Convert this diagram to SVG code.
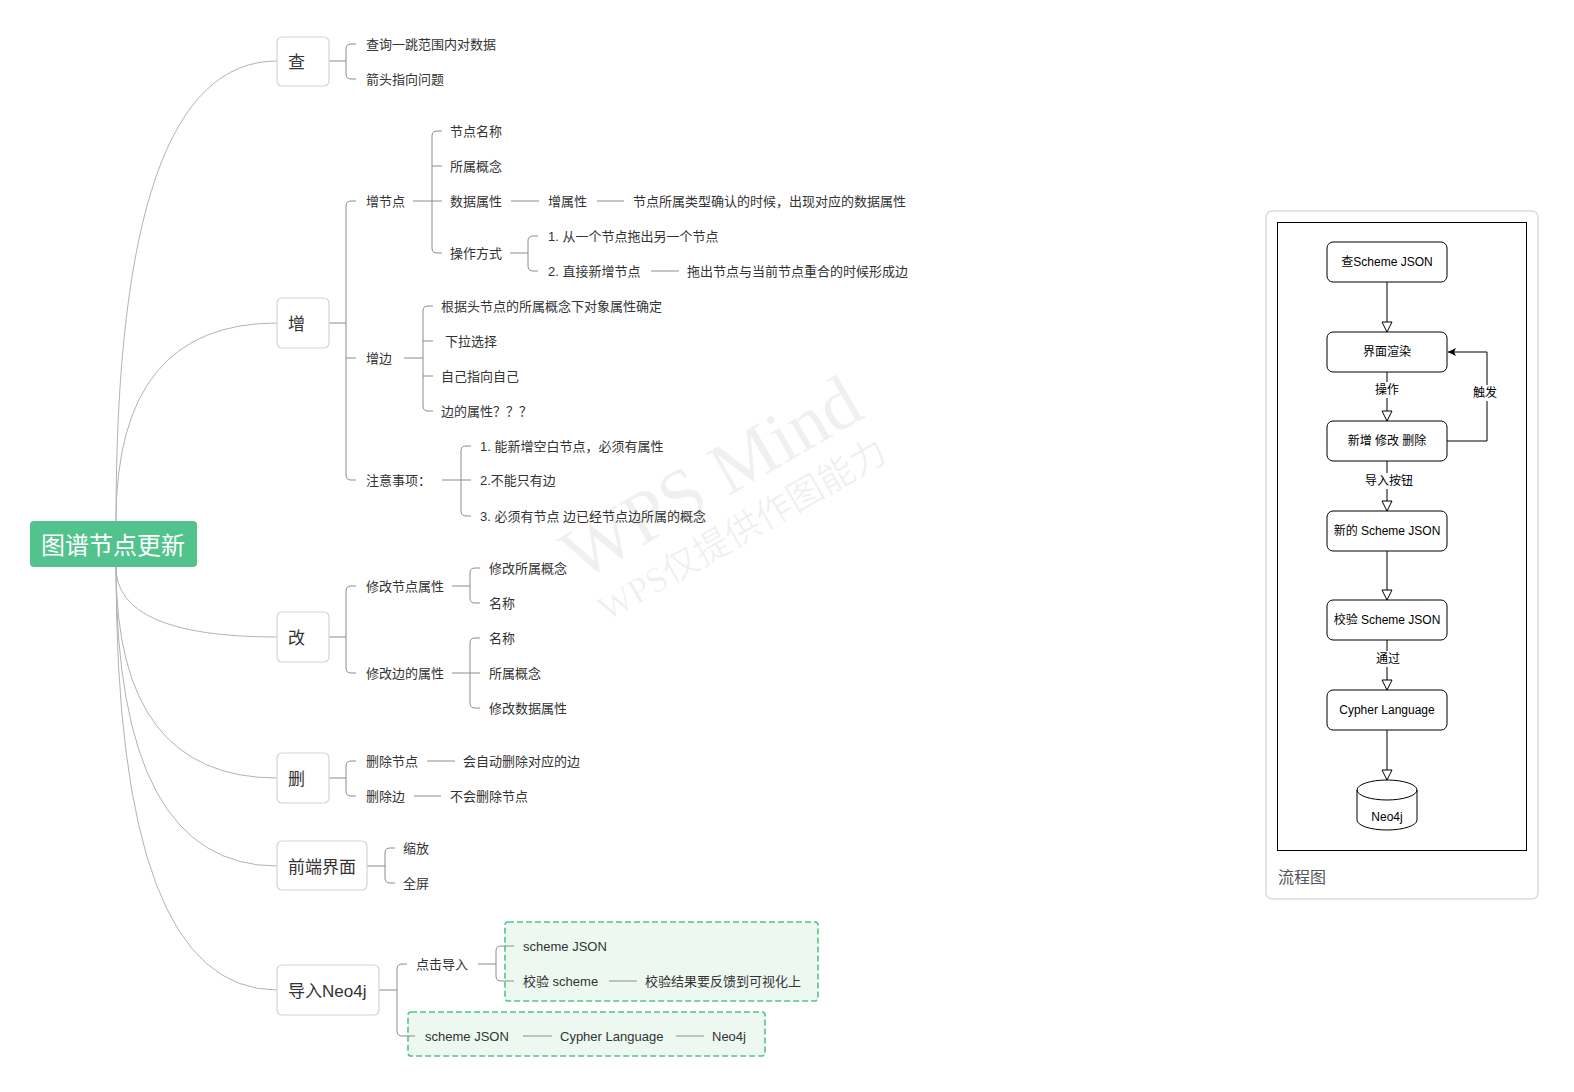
<svg xmlns="http://www.w3.org/2000/svg" width="1574" height="1092" viewBox="0 0 1574 1092">
<style>
.t{font-family:"Liberation Sans","Noto Sans CJK SC",sans-serif;fill:#333;dominant-baseline:central}
.s13{font-size:13px}
.s17{font-size:17px}
.curve{fill:none;stroke:#b3b3b3;stroke-width:1}
.ln{fill:none;stroke:#8c8c8c;stroke-width:1}
.mbox{fill:#fff;stroke:#d4d4d4;stroke-width:1.2}
.dash{fill:#edf8f1;stroke:#52c38c;stroke-width:1.6;stroke-dasharray:6 3}
.fbox{fill:#fff;stroke:#000;stroke-width:1}
.ft{font-family:"Liberation Sans","Noto Sans CJK SC",sans-serif;font-size:12px;fill:#000;text-anchor:middle;dominant-baseline:central}
.fl{fill:none;stroke:#000;stroke-width:1}
.wm{font-family:"Liberation Serif","Noto Sans CJK SC",serif;fill:#000;fill-opacity:0.06}
</style>
<defs>
<marker id="hollow" markerUnits="userSpaceOnUse" markerWidth="12" markerHeight="12" refX="10" refY="5" orient="auto" viewBox="-1 -1 12 12">
<path d="M0,0 L10,5 L0,10 Z" fill="#fff" stroke="#000" stroke-width="1"/>
</marker>
<marker id="filled" markerUnits="userSpaceOnUse" markerWidth="10" markerHeight="10" refX="8" refY="4" orient="auto" viewBox="0 0 10 8">
<path d="M0,0 L8,4 L0,8 L2,4 Z" fill="#000"/>
</marker>
</defs>
<rect width="1574" height="1092" fill="#fff"/>

<!-- watermark -->
<g id="watermark">
<text class="wm" font-size="74" transform="translate(580,582) rotate(-30)">WPS Mind</text>
<text class="wm" font-size="36" transform="translate(607,622) rotate(-30)">WPS仅提供作图能力</text>
</g>

<!-- dashed group boxes -->
<g id="groups">
<rect class="dash" x="505" y="922" width="313" height="79" rx="3"/>
<rect class="dash" x="408" y="1012" width="357" height="44" rx="3"/>
</g>

<g id="connectors">
<path class="curve" d="M116 521 Q116 61 277 61"/>
<path class="curve" d="M116 521 Q116 323 277 323"/>
<path class="curve" d="M116 567 Q116 637 277 637"/>
<path class="curve" d="M116 567 Q116 778 277 778"/>
<path class="curve" d="M116 567 Q116 866 277 866"/>
<path class="curve" d="M116 567 Q116 990 277 990"/>
<!-- 查 -->
<path class="ln" d="M329 61 H346 M356 44 H351 Q346 44 346 49 V74 Q346 79 351 79 H356"/>
<!-- 增 -->
<path class="ln" d="M329 323 H346 M356 201 H351 Q346 201 346 206 V475 Q346 480 351 480 H356 M346 358 H356"/>
<!-- 增节点 -->
<path class="ln" d="M413 201 H442 M442 131 H437 Q432 131 432 136 V248 Q432 253 437 253 H442 M432 166 H442"/>
<path class="ln" d="M511 201 H539 M597 201 H624"/>
<!-- 操作方式 -->
<path class="ln" d="M510 253 H528 M538 236 H533 Q528 236 528 241 V266 Q528 271 533 271 H538"/>
<path class="ln" d="M651 271 H679"/>
<!-- 增边 -->
<path class="ln" d="M404 358 H423 M433 306 H428 Q423 306 423 311 V406 Q423 411 428 411 H433 M423 341 H433 M423 376 H433"/>
<!-- 注意事项 -->
<path class="ln" d="M442 480 H471 M471 446 H466 Q461 446 461 451 V511 Q461 516 466 516 H471"/>
<!-- 改 -->
<path class="ln" d="M329 637 H346 M356 586 H351 Q346 586 346 591 V668 Q346 673 351 673 H356"/>
<path class="ln" d="M452 586 H470 M480 568 H475 Q470 568 470 573 V598 Q470 603 475 603 H480"/>
<path class="ln" d="M452 673 H480 M480 638 H475 Q470 638 470 643 V703 Q470 708 475 708 H480"/>
<!-- 删 -->
<path class="ln" d="M329 778 H346 M356 761 H351 Q346 761 346 766 V791 Q346 796 351 796 H356"/>
<path class="ln" d="M427 761 H455 M414 796 H441"/>
<!-- 前端界面 -->
<path class="ln" d="M367 866 H385 M395 848 H390 Q385 848 385 853 V878 Q385 883 390 883 H395"/>
<!-- 导入Neo4j -->
<path class="ln" d="M379 990 H397 M407 964 H402 Q397 964 397 969 V1031 Q397 1036 402 1036 H415"/>
<path class="ln" d="M478 964 H496 M514 946 H501 Q496 946 496 951 V976 Q496 981 501 981 H514"/>
<path class="ln" d="M609 981 H637 M523 1036 H552 M676 1036 H704"/>
</g>

<!-- root -->
<g id="root">
<rect x="30" y="521" width="167" height="46" rx="4" fill="#52c38c"/>
<text x="113" y="545" font-family="Liberation Sans,'Noto Sans CJK SC',sans-serif" font-size="24" fill="#fff" text-anchor="middle" dominant-baseline="central">图谱节点更新</text>
</g>

<!-- main nodes -->
<g id="n-cha"><rect class="mbox" x="277" y="37" width="52" height="49" rx="5"/><text class="t s17" x="288" y="62">查</text></g>
<g id="n-zeng"><rect class="mbox" x="277" y="298" width="52" height="50" rx="5"/><text class="t s17" x="288" y="324">增</text></g>
<g id="n-gai"><rect class="mbox" x="277" y="612" width="52" height="50" rx="5"/><text class="t s17" x="288" y="638">改</text></g>
<g id="n-shan"><rect class="mbox" x="277" y="753" width="52" height="50" rx="5"/><text class="t s17" x="288" y="779">删</text></g>
<g id="n-qianduan"><rect class="mbox" x="277" y="841" width="90" height="49" rx="5"/><text class="t s17" x="288" y="867">前端界面</text></g>
<g id="n-daoru"><rect class="mbox" x="277" y="965" width="102" height="50" rx="5"/><text class="t s17" x="288" y="991">导入Neo4j</text></g>

<!-- leaf texts -->
<g id="leaves-cha">
<text class="t s13" x="366" y="44">查询一跳范围内对数据</text>
<text class="t s13" x="366" y="79">箭头指向问题</text>
</g>
<g id="leaves-zeng">
<text class="t s13" x="366" y="201">增节点</text>
<text class="t s13" x="450" y="131">节点名称</text>
<text class="t s13" x="450" y="166">所属概念</text>
<text class="t s13" x="450" y="201">数据属性</text>
<text class="t s13" x="548" y="201">增属性</text>
<text class="t s13" x="633" y="201">节点所属类型确认的时候，出现对应的数据属性</text>
<text class="t s13" x="450" y="253">操作方式</text>
<text class="t s13" x="548" y="236">1. 从一个节点拖出另一个节点</text>
<text class="t s13" x="548" y="271">2. 直接新增节点</text>
<text class="t s13" x="687" y="271">拖出节点与当前节点重合的时候形成边</text>
<text class="t s13" x="366" y="358">增边</text>
<text class="t s13" x="441" y="306">根据头节点的所属概念下对象属性确定</text>
<text class="t s13" x="445" y="341">下拉选择</text>
<text class="t s13" x="441" y="376">自己指向自己</text>
<text class="t s13" x="441" y="411">边的属性？？？</text>
<text class="t s13" x="366" y="480">注意事项：</text>
<text class="t s13" x="480" y="446">1. 能新增空白节点，必须有属性</text>
<text class="t s13" x="480" y="480">2.不能只有边</text>
<text class="t s13" x="480" y="516">3. 必须有节点 边已经节点边所属的概念</text>
</g>
<g id="leaves-gai">
<text class="t s13" x="366" y="586">修改节点属性</text>
<text class="t s13" x="489" y="568">修改所属概念</text>
<text class="t s13" x="489" y="603">名称</text>
<text class="t s13" x="366" y="673">修改边的属性</text>
<text class="t s13" x="489" y="638">名称</text>
<text class="t s13" x="489" y="673">所属概念</text>
<text class="t s13" x="489" y="708">修改数据属性</text>
</g>
<g id="leaves-shan">
<text class="t s13" x="366" y="761">删除节点</text>
<text class="t s13" x="463" y="761">会自动删除对应的边</text>
<text class="t s13" x="366" y="796">删除边</text>
<text class="t s13" x="450" y="796">不会删除节点</text>
</g>
<g id="leaves-qianduan">
<text class="t s13" x="403" y="848">缩放</text>
<text class="t s13" x="403" y="883">全屏</text>
</g>
<g id="leaves-daoru">
<text class="t s13" x="416" y="964">点击导入</text>
<text class="t s13" x="523" y="946">scheme JSON</text>
<text class="t s13" x="523" y="981">校验 scheme</text>
<text class="t s13" x="645" y="981">校验结果要反馈到可视化上</text>
<text class="t s13" x="425" y="1036">scheme JSON</text>
<text class="t s13" x="560" y="1036">Cypher Language</text>
<text class="t s13" x="712" y="1036">Neo4j</text>
</g>

<!-- flowchart panel -->
<g id="flow-panel">
<rect x="1266" y="211" width="272" height="688" rx="6" fill="#fff" stroke="#dcdcdc" stroke-width="1.5"/>
<rect x="1277.5" y="222.5" width="249" height="628" fill="#fff" stroke="#000" stroke-width="1"/>
<text x="1278" y="877" font-family="Liberation Sans,'Noto Sans CJK SC',sans-serif" font-size="16" fill="#555" dominant-baseline="central">流程图</text>
</g>

<g id="flow-connectors">
<path class="fl" d="M1387 282 V332" marker-end="url(#hollow)"/>
<path class="fl" d="M1387 372 V421" marker-end="url(#hollow)"/>
<path class="fl" d="M1387 461 V511" marker-end="url(#hollow)"/>
<path class="fl" d="M1387 551 V600" marker-end="url(#hollow)"/>
<path class="fl" d="M1387 640 V690" marker-end="url(#hollow)"/>
<path class="fl" d="M1387 730 V780" marker-end="url(#hollow)"/>
<path class="fl" d="M1447 441 H1487 V352 H1448" marker-end="url(#filled)"/>
<rect x="1373" y="382" width="28" height="16" fill="#fff"/>
<text class="ft" x="1387" y="390">操作</text>
<rect x="1363" y="473" width="50" height="16" fill="#fff"/>
<text class="ft" x="1389" y="481">导入按钮</text>
<rect x="1373" y="651" width="28" height="16" fill="#fff"/>
<text class="ft" x="1388" y="659">通过</text>
<rect x="1471" y="385" width="28" height="16" fill="#fff"/>
<text class="ft" x="1485" y="393">触发</text>
</g>

<g id="f1"><rect class="fbox" x="1327" y="242" width="120" height="40" rx="6"/><text class="ft" x="1387" y="262">查Scheme JSON</text></g>
<g id="f2"><rect class="fbox" x="1327" y="332" width="120" height="40" rx="6"/><text class="ft" x="1387" y="352">界面渲染</text></g>
<g id="f3"><rect class="fbox" x="1327" y="421" width="120" height="40" rx="6"/><text class="ft" x="1387" y="441">新增 修改 删除</text></g>
<g id="f4"><rect class="fbox" x="1327" y="511" width="120" height="40" rx="6"/><text class="ft" x="1387" y="531">新的 Scheme JSON</text></g>
<g id="f5"><rect class="fbox" x="1327" y="600" width="120" height="40" rx="6"/><text class="ft" x="1387" y="620">校验 Scheme JSON</text></g>
<g id="f6"><rect class="fbox" x="1327" y="690" width="120" height="40" rx="6"/><text class="ft" x="1387" y="710">Cypher Language</text></g>
<g id="f7">
<path class="fbox" d="M1357 790 A30 10 0 0 1 1417 790 V820 A30 10 0 0 1 1357 820 Z"/>
<path class="fl" d="M1357 790 A30 10 0 0 0 1417 790"/>
<text class="ft" x="1387" y="817">Neo4j</text>
</g>
</svg>
